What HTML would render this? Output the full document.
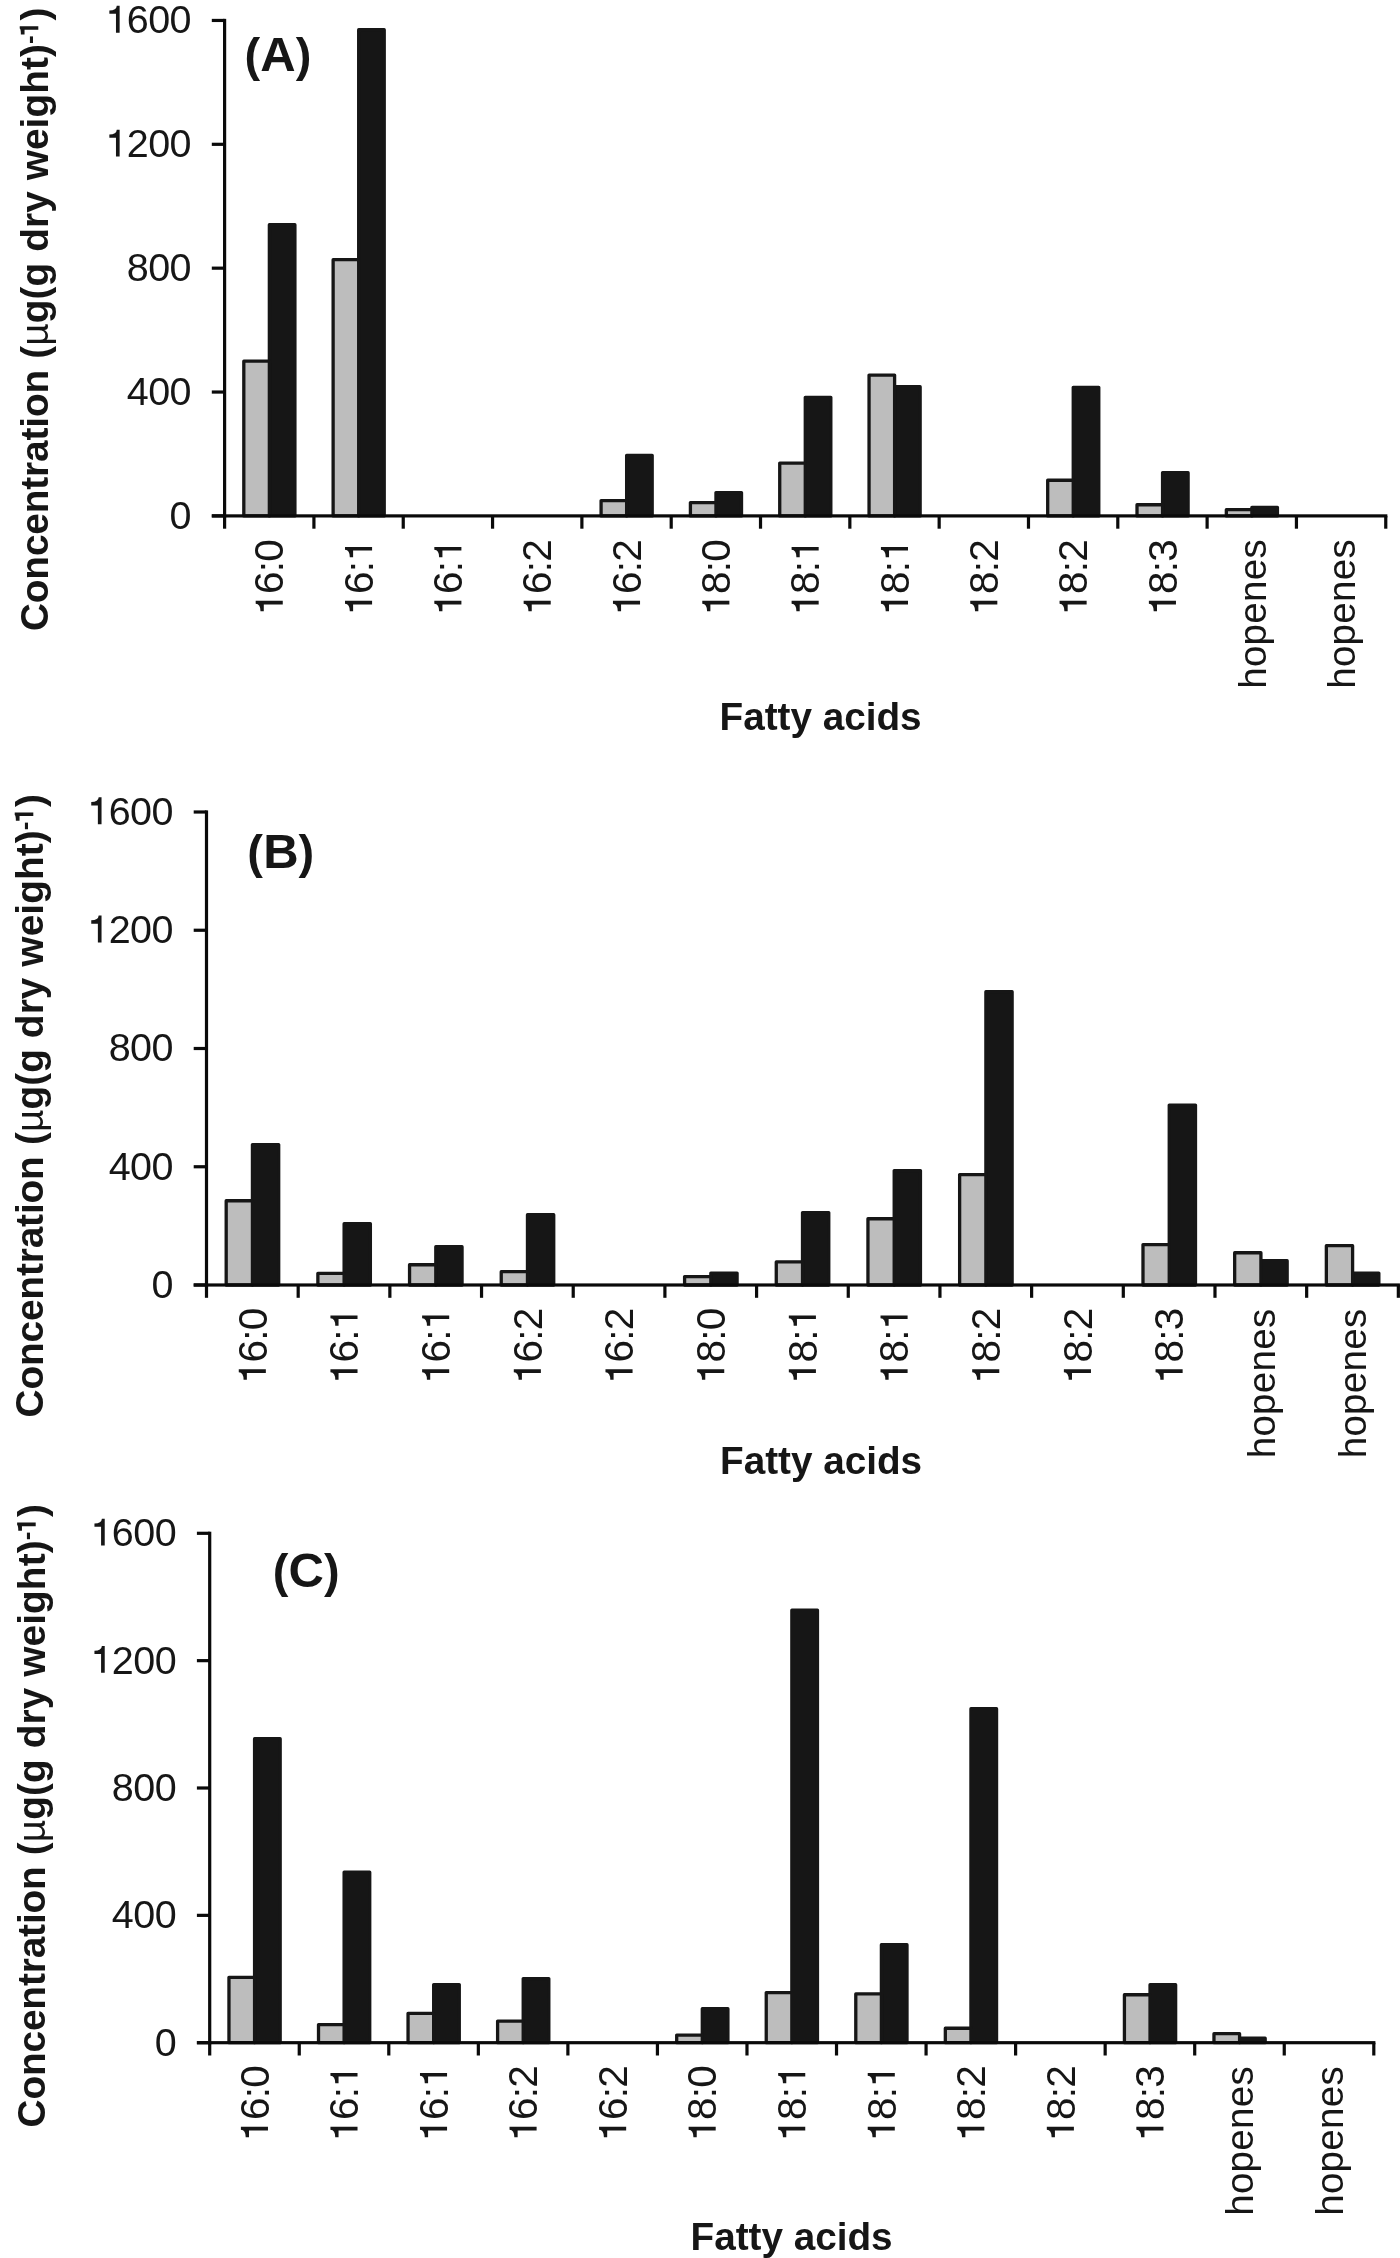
<!DOCTYPE html>
<html><head><meta charset="utf-8"><title>Fatty acids</title>
<style>
html,body{margin:0;padding:0;background:#fff;}
svg{display:block;will-change:transform;}
text{font-family:"Liberation Sans", sans-serif;fill:#161616;}
.h1{fill:none;}
</style></head>
<body>
<svg width="1400" height="2258" viewBox="0 0 1400 2258">
<rect width="1400" height="2258" fill="#ffffff"/>
<rect x="223.00" y="18.85" width="3.2" height="498.65" fill="#0a0a0a"/>
<rect x="211.80" y="18.85" width="12.8" height="3.2" fill="#0a0a0a"/>
<text x="191.00" y="33.35" font-size="39.5" letter-spacing="-0.55" text-anchor="end" class="yl"><tspan class="h1">1</tspan>600</text>
<rect x="211.80" y="142.71" width="12.8" height="3.2" fill="#0a0a0a"/>
<text x="191.00" y="157.21" font-size="39.5" letter-spacing="-0.55" text-anchor="end" class="yl"><tspan class="h1">1</tspan>200</text>
<rect x="211.80" y="266.57" width="12.8" height="3.2" fill="#0a0a0a"/>
<text x="191.00" y="281.07" font-size="39.5" letter-spacing="-0.55" text-anchor="end" class="yl">800</text>
<rect x="211.80" y="390.44" width="12.8" height="3.2" fill="#0a0a0a"/>
<text x="191.00" y="404.94" font-size="39.5" letter-spacing="-0.55" text-anchor="end" class="yl">400</text>
<rect x="211.80" y="514.30" width="12.8" height="3.2" fill="#0a0a0a"/>
<text x="191.00" y="528.80" font-size="39.5" letter-spacing="-0.55" text-anchor="end" class="yl">0</text>
<rect x="269.36" y="224.65" width="25.55" height="291.25" fill="#161616" stroke="#161616" stroke-width="3.3" stroke-linejoin="round"/>
<rect x="243.81" y="361.15" width="25.55" height="154.75" fill="#bdbdbd" stroke="#161616" stroke-width="3.3" stroke-linejoin="round"/>
<rect x="358.68" y="29.65" width="25.55" height="486.25" fill="#161616" stroke="#161616" stroke-width="3.3" stroke-linejoin="round"/>
<rect x="333.13" y="259.65" width="25.55" height="256.25" fill="#bdbdbd" stroke="#161616" stroke-width="3.3" stroke-linejoin="round"/>
<rect x="626.64" y="455.35" width="25.55" height="60.55" fill="#161616" stroke="#161616" stroke-width="3.3" stroke-linejoin="round"/>
<rect x="601.09" y="500.55" width="25.55" height="15.35" fill="#bdbdbd" stroke="#161616" stroke-width="3.3" stroke-linejoin="round"/>
<rect x="715.96" y="492.55" width="25.55" height="23.35" fill="#161616" stroke="#161616" stroke-width="3.3" stroke-linejoin="round"/>
<rect x="690.41" y="502.55" width="25.55" height="13.35" fill="#bdbdbd" stroke="#161616" stroke-width="3.3" stroke-linejoin="round"/>
<rect x="805.28" y="397.35" width="25.55" height="118.55" fill="#161616" stroke="#161616" stroke-width="3.3" stroke-linejoin="round"/>
<rect x="779.73" y="463.05" width="25.55" height="52.85" fill="#bdbdbd" stroke="#161616" stroke-width="3.3" stroke-linejoin="round"/>
<rect x="894.60" y="386.75" width="25.55" height="129.15" fill="#161616" stroke="#161616" stroke-width="3.3" stroke-linejoin="round"/>
<rect x="869.05" y="375.05" width="25.55" height="140.85" fill="#bdbdbd" stroke="#161616" stroke-width="3.3" stroke-linejoin="round"/>
<rect x="1073.24" y="387.35" width="25.55" height="128.55" fill="#161616" stroke="#161616" stroke-width="3.3" stroke-linejoin="round"/>
<rect x="1047.69" y="480.25" width="25.55" height="35.65" fill="#bdbdbd" stroke="#161616" stroke-width="3.3" stroke-linejoin="round"/>
<rect x="1162.56" y="472.75" width="25.55" height="43.15" fill="#161616" stroke="#161616" stroke-width="3.3" stroke-linejoin="round"/>
<rect x="1137.01" y="504.75" width="25.55" height="11.15" fill="#bdbdbd" stroke="#161616" stroke-width="3.3" stroke-linejoin="round"/>
<rect x="1251.88" y="507.35" width="25.55" height="8.55" fill="#161616" stroke="#161616" stroke-width="3.3" stroke-linejoin="round"/>
<rect x="1226.33" y="509.65" width="25.55" height="6.25" fill="#bdbdbd" stroke="#161616" stroke-width="3.3" stroke-linejoin="round"/>
<rect x="211.80" y="514.30" width="1175.56" height="3.2" fill="#0a0a0a"/>
<rect x="223.00" y="515.90" width="3.2" height="12.8" fill="#0a0a0a"/>
<rect x="312.32" y="515.90" width="3.2" height="12.8" fill="#0a0a0a"/>
<rect x="401.64" y="515.90" width="3.2" height="12.8" fill="#0a0a0a"/>
<rect x="490.96" y="515.90" width="3.2" height="12.8" fill="#0a0a0a"/>
<rect x="580.28" y="515.90" width="3.2" height="12.8" fill="#0a0a0a"/>
<rect x="669.60" y="515.90" width="3.2" height="12.8" fill="#0a0a0a"/>
<rect x="758.92" y="515.90" width="3.2" height="12.8" fill="#0a0a0a"/>
<rect x="848.24" y="515.90" width="3.2" height="12.8" fill="#0a0a0a"/>
<rect x="937.56" y="515.90" width="3.2" height="12.8" fill="#0a0a0a"/>
<rect x="1026.88" y="515.90" width="3.2" height="12.8" fill="#0a0a0a"/>
<rect x="1116.20" y="515.90" width="3.2" height="12.8" fill="#0a0a0a"/>
<rect x="1205.52" y="515.90" width="3.2" height="12.8" fill="#0a0a0a"/>
<rect x="1294.84" y="515.90" width="3.2" height="12.8" fill="#0a0a0a"/>
<rect x="1384.16" y="515.90" width="3.2" height="12.8" fill="#0a0a0a"/>
<text transform="translate(283.46,540.00) rotate(-90)" font-size="40.5" letter-spacing="-0.8" text-anchor="end" class="xl"><tspan class="h1">1</tspan>6:0</text>
<text transform="translate(372.78,540.00) rotate(-90)" font-size="40.5" letter-spacing="-0.8" text-anchor="end" class="xl"><tspan class="h1">1</tspan>6:<tspan class="h1">1</tspan></text>
<text transform="translate(462.10,540.00) rotate(-90)" font-size="40.5" letter-spacing="-0.8" text-anchor="end" class="xl"><tspan class="h1">1</tspan>6:<tspan class="h1">1</tspan></text>
<text transform="translate(551.42,540.00) rotate(-90)" font-size="40.5" letter-spacing="-0.8" text-anchor="end" class="xl"><tspan class="h1">1</tspan>6:2</text>
<text transform="translate(640.74,540.00) rotate(-90)" font-size="40.5" letter-spacing="-0.8" text-anchor="end" class="xl"><tspan class="h1">1</tspan>6:2</text>
<text transform="translate(730.06,540.00) rotate(-90)" font-size="40.5" letter-spacing="-0.8" text-anchor="end" class="xl"><tspan class="h1">1</tspan>8:0</text>
<text transform="translate(819.38,540.00) rotate(-90)" font-size="40.5" letter-spacing="-0.8" text-anchor="end" class="xl"><tspan class="h1">1</tspan>8:<tspan class="h1">1</tspan></text>
<text transform="translate(908.70,540.00) rotate(-90)" font-size="40.5" letter-spacing="-0.8" text-anchor="end" class="xl"><tspan class="h1">1</tspan>8:<tspan class="h1">1</tspan></text>
<text transform="translate(998.02,540.00) rotate(-90)" font-size="40.5" letter-spacing="-0.8" text-anchor="end" class="xl"><tspan class="h1">1</tspan>8:2</text>
<text transform="translate(1087.34,540.00) rotate(-90)" font-size="40.5" letter-spacing="-0.8" text-anchor="end" class="xl"><tspan class="h1">1</tspan>8:2</text>
<text transform="translate(1176.66,540.00) rotate(-90)" font-size="40.5" letter-spacing="-0.8" text-anchor="end" class="xl"><tspan class="h1">1</tspan>8:3</text>
<text transform="translate(1265.58,539.00) rotate(-90)" font-size="38.5" letter-spacing="0.3" text-anchor="end" class="xl">hopenes</text>
<text transform="translate(1354.90,539.00) rotate(-90)" font-size="38.5" letter-spacing="0.3" text-anchor="end" class="xl">hopenes</text>
<text x="244.5" y="70.8" font-size="47" font-weight="bold" letter-spacing="0.7">(<tspan font-size="49" dx="-0.5">A</tspan><tspan dx="-0.7">)</tspan></text>
<text x="820.6" y="730.3" font-size="38.7" font-weight="bold" text-anchor="middle">Fatty acids</text>
<text transform="translate(48,631.0999999999999) rotate(-90)" font-size="38.8" font-weight="bold" letter-spacing="-0.14" text-anchor="start">Concentration</text>
<text transform="translate(48,7.6) rotate(-90)" font-size="38.8" font-weight="bold" letter-spacing="0.09" text-anchor="end">(<tspan font-weight="normal">µ</tspan>g(g dry weight)<tspan font-size="26" dy="-10.2">-<tspan class="h1 b1">1</tspan></tspan><tspan dy="10.2">)</tspan></text>
<rect x="204.90" y="810.40" width="3.2" height="476.20" fill="#0a0a0a"/>
<rect x="193.70" y="810.40" width="12.8" height="3.2" fill="#0a0a0a"/>
<text x="172.90" y="824.90" font-size="39.5" letter-spacing="-0.55" text-anchor="end" class="yl"><tspan class="h1">1</tspan>600</text>
<rect x="193.70" y="928.65" width="12.8" height="3.2" fill="#0a0a0a"/>
<text x="172.90" y="943.15" font-size="39.5" letter-spacing="-0.55" text-anchor="end" class="yl"><tspan class="h1">1</tspan>200</text>
<rect x="193.70" y="1046.90" width="12.8" height="3.2" fill="#0a0a0a"/>
<text x="172.90" y="1061.40" font-size="39.5" letter-spacing="-0.55" text-anchor="end" class="yl">800</text>
<rect x="193.70" y="1165.15" width="12.8" height="3.2" fill="#0a0a0a"/>
<text x="172.90" y="1179.65" font-size="39.5" letter-spacing="-0.55" text-anchor="end" class="yl">400</text>
<rect x="193.70" y="1283.40" width="12.8" height="3.2" fill="#0a0a0a"/>
<text x="172.90" y="1297.90" font-size="39.5" letter-spacing="-0.55" text-anchor="end" class="yl">0</text>
<rect x="252.44" y="1144.55" width="26.25" height="140.45" fill="#161616" stroke="#161616" stroke-width="3.3" stroke-linejoin="round"/>
<rect x="226.19" y="1200.75" width="26.25" height="84.25" fill="#bdbdbd" stroke="#161616" stroke-width="3.3" stroke-linejoin="round"/>
<rect x="344.12" y="1223.65" width="26.25" height="61.35" fill="#161616" stroke="#161616" stroke-width="3.3" stroke-linejoin="round"/>
<rect x="317.87" y="1273.35" width="26.25" height="11.65" fill="#bdbdbd" stroke="#161616" stroke-width="3.3" stroke-linejoin="round"/>
<rect x="435.80" y="1246.75" width="26.25" height="38.25" fill="#161616" stroke="#161616" stroke-width="3.3" stroke-linejoin="round"/>
<rect x="409.55" y="1264.75" width="26.25" height="20.25" fill="#bdbdbd" stroke="#161616" stroke-width="3.3" stroke-linejoin="round"/>
<rect x="527.48" y="1214.75" width="26.25" height="70.25" fill="#161616" stroke="#161616" stroke-width="3.3" stroke-linejoin="round"/>
<rect x="501.23" y="1271.65" width="26.25" height="13.35" fill="#bdbdbd" stroke="#161616" stroke-width="3.3" stroke-linejoin="round"/>
<rect x="710.84" y="1273.05" width="26.25" height="11.95" fill="#161616" stroke="#161616" stroke-width="3.3" stroke-linejoin="round"/>
<rect x="684.59" y="1276.55" width="26.25" height="8.45" fill="#bdbdbd" stroke="#161616" stroke-width="3.3" stroke-linejoin="round"/>
<rect x="802.52" y="1212.55" width="26.25" height="72.45" fill="#161616" stroke="#161616" stroke-width="3.3" stroke-linejoin="round"/>
<rect x="776.27" y="1261.95" width="26.25" height="23.05" fill="#bdbdbd" stroke="#161616" stroke-width="3.3" stroke-linejoin="round"/>
<rect x="894.20" y="1170.55" width="26.25" height="114.45" fill="#161616" stroke="#161616" stroke-width="3.3" stroke-linejoin="round"/>
<rect x="867.95" y="1218.75" width="26.25" height="66.25" fill="#bdbdbd" stroke="#161616" stroke-width="3.3" stroke-linejoin="round"/>
<rect x="985.88" y="991.65" width="26.25" height="293.35" fill="#161616" stroke="#161616" stroke-width="3.3" stroke-linejoin="round"/>
<rect x="959.63" y="1174.55" width="26.25" height="110.45" fill="#bdbdbd" stroke="#161616" stroke-width="3.3" stroke-linejoin="round"/>
<rect x="1169.24" y="1105.05" width="26.25" height="179.95" fill="#161616" stroke="#161616" stroke-width="3.3" stroke-linejoin="round"/>
<rect x="1142.99" y="1244.55" width="26.25" height="40.45" fill="#bdbdbd" stroke="#161616" stroke-width="3.3" stroke-linejoin="round"/>
<rect x="1260.92" y="1260.75" width="26.25" height="24.25" fill="#161616" stroke="#161616" stroke-width="3.3" stroke-linejoin="round"/>
<rect x="1234.67" y="1252.75" width="26.25" height="32.25" fill="#bdbdbd" stroke="#161616" stroke-width="3.3" stroke-linejoin="round"/>
<rect x="1352.60" y="1273.05" width="26.25" height="11.95" fill="#161616" stroke="#161616" stroke-width="3.3" stroke-linejoin="round"/>
<rect x="1326.35" y="1245.65" width="26.25" height="39.35" fill="#bdbdbd" stroke="#161616" stroke-width="3.3" stroke-linejoin="round"/>
<rect x="193.70" y="1283.40" width="1206.24" height="3.2" fill="#0a0a0a"/>
<rect x="204.90" y="1285.00" width="3.2" height="12.8" fill="#0a0a0a"/>
<rect x="296.58" y="1285.00" width="3.2" height="12.8" fill="#0a0a0a"/>
<rect x="388.26" y="1285.00" width="3.2" height="12.8" fill="#0a0a0a"/>
<rect x="479.94" y="1285.00" width="3.2" height="12.8" fill="#0a0a0a"/>
<rect x="571.62" y="1285.00" width="3.2" height="12.8" fill="#0a0a0a"/>
<rect x="663.30" y="1285.00" width="3.2" height="12.8" fill="#0a0a0a"/>
<rect x="754.98" y="1285.00" width="3.2" height="12.8" fill="#0a0a0a"/>
<rect x="846.66" y="1285.00" width="3.2" height="12.8" fill="#0a0a0a"/>
<rect x="938.34" y="1285.00" width="3.2" height="12.8" fill="#0a0a0a"/>
<rect x="1030.02" y="1285.00" width="3.2" height="12.8" fill="#0a0a0a"/>
<rect x="1121.70" y="1285.00" width="3.2" height="12.8" fill="#0a0a0a"/>
<rect x="1213.38" y="1285.00" width="3.2" height="12.8" fill="#0a0a0a"/>
<rect x="1305.06" y="1285.00" width="3.2" height="12.8" fill="#0a0a0a"/>
<rect x="1396.74" y="1285.00" width="3.2" height="12.8" fill="#0a0a0a"/>
<text transform="translate(266.54,1308.50) rotate(-90)" font-size="40.5" letter-spacing="-0.8" text-anchor="end" class="xl"><tspan class="h1">1</tspan>6:0</text>
<text transform="translate(358.22,1308.50) rotate(-90)" font-size="40.5" letter-spacing="-0.8" text-anchor="end" class="xl"><tspan class="h1">1</tspan>6:<tspan class="h1">1</tspan></text>
<text transform="translate(449.90,1308.50) rotate(-90)" font-size="40.5" letter-spacing="-0.8" text-anchor="end" class="xl"><tspan class="h1">1</tspan>6:<tspan class="h1">1</tspan></text>
<text transform="translate(541.58,1308.50) rotate(-90)" font-size="40.5" letter-spacing="-0.8" text-anchor="end" class="xl"><tspan class="h1">1</tspan>6:2</text>
<text transform="translate(633.26,1308.50) rotate(-90)" font-size="40.5" letter-spacing="-0.8" text-anchor="end" class="xl"><tspan class="h1">1</tspan>6:2</text>
<text transform="translate(724.94,1308.50) rotate(-90)" font-size="40.5" letter-spacing="-0.8" text-anchor="end" class="xl"><tspan class="h1">1</tspan>8:0</text>
<text transform="translate(816.62,1308.50) rotate(-90)" font-size="40.5" letter-spacing="-0.8" text-anchor="end" class="xl"><tspan class="h1">1</tspan>8:<tspan class="h1">1</tspan></text>
<text transform="translate(908.30,1308.50) rotate(-90)" font-size="40.5" letter-spacing="-0.8" text-anchor="end" class="xl"><tspan class="h1">1</tspan>8:<tspan class="h1">1</tspan></text>
<text transform="translate(999.98,1308.50) rotate(-90)" font-size="40.5" letter-spacing="-0.8" text-anchor="end" class="xl"><tspan class="h1">1</tspan>8:2</text>
<text transform="translate(1091.66,1308.50) rotate(-90)" font-size="40.5" letter-spacing="-0.8" text-anchor="end" class="xl"><tspan class="h1">1</tspan>8:2</text>
<text transform="translate(1183.34,1308.50) rotate(-90)" font-size="40.5" letter-spacing="-0.8" text-anchor="end" class="xl"><tspan class="h1">1</tspan>8:3</text>
<text transform="translate(1274.62,1308.50) rotate(-90)" font-size="38.5" letter-spacing="0.3" text-anchor="end" class="xl">hopenes</text>
<text transform="translate(1366.30,1308.50) rotate(-90)" font-size="38.5" letter-spacing="0.3" text-anchor="end" class="xl">hopenes</text>
<text x="247.3" y="867.6" font-size="47" font-weight="bold" letter-spacing="0.7">(<tspan font-size="49" dx="-0.5">B</tspan><tspan dx="-0.7">)</tspan></text>
<text x="821.1" y="1473.9" font-size="38.7" font-weight="bold" text-anchor="middle">Fatty acids</text>
<text transform="translate(43,1417.5) rotate(-90)" font-size="38.8" font-weight="bold" letter-spacing="-0.14" text-anchor="start">Concentration</text>
<text transform="translate(43,793.9) rotate(-90)" font-size="38.8" font-weight="bold" letter-spacing="0.09" text-anchor="end">(<tspan font-weight="normal">µ</tspan>g(g dry weight)<tspan font-size="26" dy="-10.2">-<tspan class="h1 b1">1</tspan></tspan><tspan dy="10.2">)</tspan></text>
<rect x="208.10" y="1531.70" width="3.2" height="512.60" fill="#0a0a0a"/>
<rect x="196.90" y="1531.70" width="12.8" height="3.2" fill="#0a0a0a"/>
<text x="176.10" y="1546.20" font-size="39.5" letter-spacing="-0.55" text-anchor="end" class="yl"><tspan class="h1">1</tspan>600</text>
<rect x="196.90" y="1659.05" width="12.8" height="3.2" fill="#0a0a0a"/>
<text x="176.10" y="1673.55" font-size="39.5" letter-spacing="-0.55" text-anchor="end" class="yl"><tspan class="h1">1</tspan>200</text>
<rect x="196.90" y="1786.40" width="12.8" height="3.2" fill="#0a0a0a"/>
<text x="176.10" y="1800.90" font-size="39.5" letter-spacing="-0.55" text-anchor="end" class="yl">800</text>
<rect x="196.90" y="1913.75" width="12.8" height="3.2" fill="#0a0a0a"/>
<text x="176.10" y="1928.25" font-size="39.5" letter-spacing="-0.55" text-anchor="end" class="yl">400</text>
<rect x="196.90" y="2041.10" width="12.8" height="3.2" fill="#0a0a0a"/>
<text x="176.10" y="2055.60" font-size="39.5" letter-spacing="-0.55" text-anchor="end" class="yl">0</text>
<rect x="254.57" y="1738.75" width="25.61" height="303.95" fill="#161616" stroke="#161616" stroke-width="3.3" stroke-linejoin="round"/>
<rect x="228.96" y="1977.35" width="25.61" height="65.35" fill="#bdbdbd" stroke="#161616" stroke-width="3.3" stroke-linejoin="round"/>
<rect x="344.12" y="1872.25" width="25.61" height="170.45" fill="#161616" stroke="#161616" stroke-width="3.3" stroke-linejoin="round"/>
<rect x="318.51" y="2024.55" width="25.61" height="18.15" fill="#bdbdbd" stroke="#161616" stroke-width="3.3" stroke-linejoin="round"/>
<rect x="433.67" y="1984.55" width="25.61" height="58.15" fill="#161616" stroke="#161616" stroke-width="3.3" stroke-linejoin="round"/>
<rect x="408.05" y="2013.35" width="25.61" height="29.35" fill="#bdbdbd" stroke="#161616" stroke-width="3.3" stroke-linejoin="round"/>
<rect x="523.21" y="1978.55" width="25.61" height="64.15" fill="#161616" stroke="#161616" stroke-width="3.3" stroke-linejoin="round"/>
<rect x="497.60" y="2021.05" width="25.61" height="21.65" fill="#bdbdbd" stroke="#161616" stroke-width="3.3" stroke-linejoin="round"/>
<rect x="702.30" y="2008.75" width="25.61" height="33.95" fill="#161616" stroke="#161616" stroke-width="3.3" stroke-linejoin="round"/>
<rect x="676.69" y="2035.05" width="25.61" height="7.65" fill="#bdbdbd" stroke="#161616" stroke-width="3.3" stroke-linejoin="round"/>
<rect x="791.85" y="1610.25" width="25.61" height="432.45" fill="#161616" stroke="#161616" stroke-width="3.3" stroke-linejoin="round"/>
<rect x="766.24" y="1992.55" width="25.61" height="50.15" fill="#bdbdbd" stroke="#161616" stroke-width="3.3" stroke-linejoin="round"/>
<rect x="881.39" y="1944.75" width="25.61" height="97.95" fill="#161616" stroke="#161616" stroke-width="3.3" stroke-linejoin="round"/>
<rect x="855.78" y="1993.95" width="25.61" height="48.75" fill="#bdbdbd" stroke="#161616" stroke-width="3.3" stroke-linejoin="round"/>
<rect x="970.94" y="1708.75" width="25.61" height="333.95" fill="#161616" stroke="#161616" stroke-width="3.3" stroke-linejoin="round"/>
<rect x="945.33" y="2028.25" width="25.61" height="14.45" fill="#bdbdbd" stroke="#161616" stroke-width="3.3" stroke-linejoin="round"/>
<rect x="1150.03" y="1984.75" width="25.61" height="57.95" fill="#161616" stroke="#161616" stroke-width="3.3" stroke-linejoin="round"/>
<rect x="1124.42" y="1994.75" width="25.61" height="47.95" fill="#bdbdbd" stroke="#161616" stroke-width="3.3" stroke-linejoin="round"/>
<rect x="1239.58" y="2038.25" width="25.61" height="4.45" fill="#161616" stroke="#161616" stroke-width="3.3" stroke-linejoin="round"/>
<rect x="1213.97" y="2033.65" width="25.61" height="9.05" fill="#bdbdbd" stroke="#161616" stroke-width="3.3" stroke-linejoin="round"/>
<rect x="196.90" y="2041.10" width="1178.50" height="3.2" fill="#0a0a0a"/>
<rect x="208.10" y="2042.70" width="3.2" height="12.8" fill="#0a0a0a"/>
<rect x="297.65" y="2042.70" width="3.2" height="12.8" fill="#0a0a0a"/>
<rect x="387.19" y="2042.70" width="3.2" height="12.8" fill="#0a0a0a"/>
<rect x="476.74" y="2042.70" width="3.2" height="12.8" fill="#0a0a0a"/>
<rect x="566.28" y="2042.70" width="3.2" height="12.8" fill="#0a0a0a"/>
<rect x="655.83" y="2042.70" width="3.2" height="12.8" fill="#0a0a0a"/>
<rect x="745.38" y="2042.70" width="3.2" height="12.8" fill="#0a0a0a"/>
<rect x="834.92" y="2042.70" width="3.2" height="12.8" fill="#0a0a0a"/>
<rect x="924.47" y="2042.70" width="3.2" height="12.8" fill="#0a0a0a"/>
<rect x="1014.01" y="2042.70" width="3.2" height="12.8" fill="#0a0a0a"/>
<rect x="1103.56" y="2042.70" width="3.2" height="12.8" fill="#0a0a0a"/>
<rect x="1193.11" y="2042.70" width="3.2" height="12.8" fill="#0a0a0a"/>
<rect x="1282.65" y="2042.70" width="3.2" height="12.8" fill="#0a0a0a"/>
<rect x="1372.20" y="2042.70" width="3.2" height="12.8" fill="#0a0a0a"/>
<text transform="translate(268.67,2066.00) rotate(-90)" font-size="40.5" letter-spacing="-0.8" text-anchor="end" class="xl"><tspan class="h1">1</tspan>6:0</text>
<text transform="translate(358.22,2066.00) rotate(-90)" font-size="40.5" letter-spacing="-0.8" text-anchor="end" class="xl"><tspan class="h1">1</tspan>6:<tspan class="h1">1</tspan></text>
<text transform="translate(447.76,2066.00) rotate(-90)" font-size="40.5" letter-spacing="-0.8" text-anchor="end" class="xl"><tspan class="h1">1</tspan>6:<tspan class="h1">1</tspan></text>
<text transform="translate(537.31,2066.00) rotate(-90)" font-size="40.5" letter-spacing="-0.8" text-anchor="end" class="xl"><tspan class="h1">1</tspan>6:2</text>
<text transform="translate(626.86,2066.00) rotate(-90)" font-size="40.5" letter-spacing="-0.8" text-anchor="end" class="xl"><tspan class="h1">1</tspan>6:2</text>
<text transform="translate(716.40,2066.00) rotate(-90)" font-size="40.5" letter-spacing="-0.8" text-anchor="end" class="xl"><tspan class="h1">1</tspan>8:0</text>
<text transform="translate(805.95,2066.00) rotate(-90)" font-size="40.5" letter-spacing="-0.8" text-anchor="end" class="xl"><tspan class="h1">1</tspan>8:<tspan class="h1">1</tspan></text>
<text transform="translate(895.50,2066.00) rotate(-90)" font-size="40.5" letter-spacing="-0.8" text-anchor="end" class="xl"><tspan class="h1">1</tspan>8:<tspan class="h1">1</tspan></text>
<text transform="translate(985.04,2066.00) rotate(-90)" font-size="40.5" letter-spacing="-0.8" text-anchor="end" class="xl"><tspan class="h1">1</tspan>8:2</text>
<text transform="translate(1074.59,2066.00) rotate(-90)" font-size="40.5" letter-spacing="-0.8" text-anchor="end" class="xl"><tspan class="h1">1</tspan>8:2</text>
<text transform="translate(1164.13,2066.00) rotate(-90)" font-size="40.5" letter-spacing="-0.8" text-anchor="end" class="xl"><tspan class="h1">1</tspan>8:3</text>
<text transform="translate(1253.28,2066.00) rotate(-90)" font-size="38.5" letter-spacing="0.3" text-anchor="end" class="xl">hopenes</text>
<text transform="translate(1342.83,2066.00) rotate(-90)" font-size="38.5" letter-spacing="0.3" text-anchor="end" class="xl">hopenes</text>
<text x="272.7" y="1587.2" font-size="47" font-weight="bold" letter-spacing="0.7">(<tspan font-size="49" dx="-0.5">C</tspan><tspan dx="-0.7">)</tspan></text>
<text x="791.6" y="2249.8" font-size="38.7" font-weight="bold" text-anchor="middle">Fatty acids</text>
<text transform="translate(45.4,2127.5) rotate(-90)" font-size="38.8" font-weight="bold" letter-spacing="-0.14" text-anchor="start">Concentration</text>
<text transform="translate(45.4,1504.0) rotate(-90)" font-size="38.8" font-weight="bold" letter-spacing="0.09" text-anchor="end">(<tspan font-weight="normal">µ</tspan>g(g dry weight)<tspan font-size="26" dy="-10.2">-<tspan class="h1 b1">1</tspan></tspan><tspan dy="10.2">)</tspan></text>
<path transform="matrix(38.5000 0.0000 0.0000 38.5000 105.31 33.35)" d="M0.372,-0.018 V-0.716 H0.298 Q0.290,-0.592 0.105,-0.592 V-0.507 H0.277 V-0.018 Z" fill="#161616"/>
<path transform="matrix(38.5000 0.0000 0.0000 38.5000 105.31 157.21)" d="M0.372,-0.018 V-0.716 H0.298 Q0.290,-0.592 0.105,-0.592 V-0.507 H0.277 V-0.018 Z" fill="#161616"/>
<path transform="matrix(0.0000 -38.8000 38.8000 0.0000 283.46 615.24)" d="M0.372,-0.018 V-0.716 H0.298 Q0.290,-0.592 0.105,-0.592 V-0.507 H0.277 V-0.018 Z" fill="#161616"/>
<path transform="matrix(0.0000 -38.8000 38.8000 0.0000 372.78 615.26)" d="M0.372,-0.018 V-0.716 H0.298 Q0.290,-0.592 0.105,-0.592 V-0.507 H0.277 V-0.018 Z" fill="#161616"/>
<path transform="matrix(0.0000 -38.8000 38.8000 0.0000 372.78 561.33)" d="M0.372,-0.018 V-0.716 H0.298 Q0.290,-0.592 0.105,-0.592 V-0.507 H0.277 V-0.018 Z" fill="#161616"/>
<path transform="matrix(0.0000 -38.8000 38.8000 0.0000 462.10 615.26)" d="M0.372,-0.018 V-0.716 H0.298 Q0.290,-0.592 0.105,-0.592 V-0.507 H0.277 V-0.018 Z" fill="#161616"/>
<path transform="matrix(0.0000 -38.8000 38.8000 0.0000 462.10 561.33)" d="M0.372,-0.018 V-0.716 H0.298 Q0.290,-0.592 0.105,-0.592 V-0.507 H0.277 V-0.018 Z" fill="#161616"/>
<path transform="matrix(0.0000 -38.8000 38.8000 0.0000 551.42 615.24)" d="M0.372,-0.018 V-0.716 H0.298 Q0.290,-0.592 0.105,-0.592 V-0.507 H0.277 V-0.018 Z" fill="#161616"/>
<path transform="matrix(0.0000 -38.8000 38.8000 0.0000 640.74 615.24)" d="M0.372,-0.018 V-0.716 H0.298 Q0.290,-0.592 0.105,-0.592 V-0.507 H0.277 V-0.018 Z" fill="#161616"/>
<path transform="matrix(0.0000 -38.8000 38.8000 0.0000 730.06 615.24)" d="M0.372,-0.018 V-0.716 H0.298 Q0.290,-0.592 0.105,-0.592 V-0.507 H0.277 V-0.018 Z" fill="#161616"/>
<path transform="matrix(0.0000 -38.8000 38.8000 0.0000 819.38 615.26)" d="M0.372,-0.018 V-0.716 H0.298 Q0.290,-0.592 0.105,-0.592 V-0.507 H0.277 V-0.018 Z" fill="#161616"/>
<path transform="matrix(0.0000 -38.8000 38.8000 0.0000 819.38 561.33)" d="M0.372,-0.018 V-0.716 H0.298 Q0.290,-0.592 0.105,-0.592 V-0.507 H0.277 V-0.018 Z" fill="#161616"/>
<path transform="matrix(0.0000 -38.8000 38.8000 0.0000 908.70 615.26)" d="M0.372,-0.018 V-0.716 H0.298 Q0.290,-0.592 0.105,-0.592 V-0.507 H0.277 V-0.018 Z" fill="#161616"/>
<path transform="matrix(0.0000 -38.8000 38.8000 0.0000 908.70 561.33)" d="M0.372,-0.018 V-0.716 H0.298 Q0.290,-0.592 0.105,-0.592 V-0.507 H0.277 V-0.018 Z" fill="#161616"/>
<path transform="matrix(0.0000 -38.8000 38.8000 0.0000 998.02 615.24)" d="M0.372,-0.018 V-0.716 H0.298 Q0.290,-0.592 0.105,-0.592 V-0.507 H0.277 V-0.018 Z" fill="#161616"/>
<path transform="matrix(0.0000 -38.8000 38.8000 0.0000 1087.34 615.24)" d="M0.372,-0.018 V-0.716 H0.298 Q0.290,-0.592 0.105,-0.592 V-0.507 H0.277 V-0.018 Z" fill="#161616"/>
<path transform="matrix(0.0000 -38.8000 38.8000 0.0000 1176.66 615.24)" d="M0.372,-0.018 V-0.716 H0.298 Q0.290,-0.592 0.105,-0.592 V-0.507 H0.277 V-0.018 Z" fill="#161616"/>
<path transform="matrix(0.0000 -26.2000 26.2000 0.0000 38.30 36.48)" d="M0.394,0 V-0.709 H0.300 Q0.280,-0.665 0.079,-0.665 V-0.525 H0.256 V0 Z" fill="#161616"/>
<path transform="matrix(38.5000 0.0000 0.0000 38.5000 87.21 824.90)" d="M0.372,-0.018 V-0.716 H0.298 Q0.290,-0.592 0.105,-0.592 V-0.507 H0.277 V-0.018 Z" fill="#161616"/>
<path transform="matrix(38.5000 0.0000 0.0000 38.5000 87.21 943.15)" d="M0.372,-0.018 V-0.716 H0.298 Q0.290,-0.592 0.105,-0.592 V-0.507 H0.277 V-0.018 Z" fill="#161616"/>
<path transform="matrix(0.0000 -38.8000 38.8000 0.0000 266.54 1383.74)" d="M0.372,-0.018 V-0.716 H0.298 Q0.290,-0.592 0.105,-0.592 V-0.507 H0.277 V-0.018 Z" fill="#161616"/>
<path transform="matrix(0.0000 -38.8000 38.8000 0.0000 358.22 1383.76)" d="M0.372,-0.018 V-0.716 H0.298 Q0.290,-0.592 0.105,-0.592 V-0.507 H0.277 V-0.018 Z" fill="#161616"/>
<path transform="matrix(0.0000 -38.8000 38.8000 0.0000 358.22 1329.83)" d="M0.372,-0.018 V-0.716 H0.298 Q0.290,-0.592 0.105,-0.592 V-0.507 H0.277 V-0.018 Z" fill="#161616"/>
<path transform="matrix(0.0000 -38.8000 38.8000 0.0000 449.90 1383.76)" d="M0.372,-0.018 V-0.716 H0.298 Q0.290,-0.592 0.105,-0.592 V-0.507 H0.277 V-0.018 Z" fill="#161616"/>
<path transform="matrix(0.0000 -38.8000 38.8000 0.0000 449.90 1329.83)" d="M0.372,-0.018 V-0.716 H0.298 Q0.290,-0.592 0.105,-0.592 V-0.507 H0.277 V-0.018 Z" fill="#161616"/>
<path transform="matrix(0.0000 -38.8000 38.8000 0.0000 541.58 1383.74)" d="M0.372,-0.018 V-0.716 H0.298 Q0.290,-0.592 0.105,-0.592 V-0.507 H0.277 V-0.018 Z" fill="#161616"/>
<path transform="matrix(0.0000 -38.8000 38.8000 0.0000 633.26 1383.74)" d="M0.372,-0.018 V-0.716 H0.298 Q0.290,-0.592 0.105,-0.592 V-0.507 H0.277 V-0.018 Z" fill="#161616"/>
<path transform="matrix(0.0000 -38.8000 38.8000 0.0000 724.94 1383.74)" d="M0.372,-0.018 V-0.716 H0.298 Q0.290,-0.592 0.105,-0.592 V-0.507 H0.277 V-0.018 Z" fill="#161616"/>
<path transform="matrix(0.0000 -38.8000 38.8000 0.0000 816.62 1383.76)" d="M0.372,-0.018 V-0.716 H0.298 Q0.290,-0.592 0.105,-0.592 V-0.507 H0.277 V-0.018 Z" fill="#161616"/>
<path transform="matrix(0.0000 -38.8000 38.8000 0.0000 816.62 1329.83)" d="M0.372,-0.018 V-0.716 H0.298 Q0.290,-0.592 0.105,-0.592 V-0.507 H0.277 V-0.018 Z" fill="#161616"/>
<path transform="matrix(0.0000 -38.8000 38.8000 0.0000 908.30 1383.76)" d="M0.372,-0.018 V-0.716 H0.298 Q0.290,-0.592 0.105,-0.592 V-0.507 H0.277 V-0.018 Z" fill="#161616"/>
<path transform="matrix(0.0000 -38.8000 38.8000 0.0000 908.30 1329.83)" d="M0.372,-0.018 V-0.716 H0.298 Q0.290,-0.592 0.105,-0.592 V-0.507 H0.277 V-0.018 Z" fill="#161616"/>
<path transform="matrix(0.0000 -38.8000 38.8000 0.0000 999.98 1383.74)" d="M0.372,-0.018 V-0.716 H0.298 Q0.290,-0.592 0.105,-0.592 V-0.507 H0.277 V-0.018 Z" fill="#161616"/>
<path transform="matrix(0.0000 -38.8000 38.8000 0.0000 1091.66 1383.74)" d="M0.372,-0.018 V-0.716 H0.298 Q0.290,-0.592 0.105,-0.592 V-0.507 H0.277 V-0.018 Z" fill="#161616"/>
<path transform="matrix(0.0000 -38.8000 38.8000 0.0000 1183.34 1383.74)" d="M0.372,-0.018 V-0.716 H0.298 Q0.290,-0.592 0.105,-0.592 V-0.507 H0.277 V-0.018 Z" fill="#161616"/>
<path transform="matrix(0.0000 -26.2000 26.2000 0.0000 33.30 822.78)" d="M0.394,0 V-0.709 H0.300 Q0.280,-0.665 0.079,-0.665 V-0.525 H0.256 V0 Z" fill="#161616"/>
<path transform="matrix(38.5000 0.0000 0.0000 38.5000 90.41 1546.20)" d="M0.372,-0.018 V-0.716 H0.298 Q0.290,-0.592 0.105,-0.592 V-0.507 H0.277 V-0.018 Z" fill="#161616"/>
<path transform="matrix(38.5000 0.0000 0.0000 38.5000 90.41 1673.55)" d="M0.372,-0.018 V-0.716 H0.298 Q0.290,-0.592 0.105,-0.592 V-0.507 H0.277 V-0.018 Z" fill="#161616"/>
<path transform="matrix(0.0000 -38.8000 38.8000 0.0000 268.67 2141.24)" d="M0.372,-0.018 V-0.716 H0.298 Q0.290,-0.592 0.105,-0.592 V-0.507 H0.277 V-0.018 Z" fill="#161616"/>
<path transform="matrix(0.0000 -38.8000 38.8000 0.0000 358.22 2141.26)" d="M0.372,-0.018 V-0.716 H0.298 Q0.290,-0.592 0.105,-0.592 V-0.507 H0.277 V-0.018 Z" fill="#161616"/>
<path transform="matrix(0.0000 -38.8000 38.8000 0.0000 358.22 2087.33)" d="M0.372,-0.018 V-0.716 H0.298 Q0.290,-0.592 0.105,-0.592 V-0.507 H0.277 V-0.018 Z" fill="#161616"/>
<path transform="matrix(0.0000 -38.8000 38.8000 0.0000 447.76 2141.26)" d="M0.372,-0.018 V-0.716 H0.298 Q0.290,-0.592 0.105,-0.592 V-0.507 H0.277 V-0.018 Z" fill="#161616"/>
<path transform="matrix(0.0000 -38.8000 38.8000 0.0000 447.76 2087.33)" d="M0.372,-0.018 V-0.716 H0.298 Q0.290,-0.592 0.105,-0.592 V-0.507 H0.277 V-0.018 Z" fill="#161616"/>
<path transform="matrix(0.0000 -38.8000 38.8000 0.0000 537.31 2141.24)" d="M0.372,-0.018 V-0.716 H0.298 Q0.290,-0.592 0.105,-0.592 V-0.507 H0.277 V-0.018 Z" fill="#161616"/>
<path transform="matrix(0.0000 -38.8000 38.8000 0.0000 626.86 2141.24)" d="M0.372,-0.018 V-0.716 H0.298 Q0.290,-0.592 0.105,-0.592 V-0.507 H0.277 V-0.018 Z" fill="#161616"/>
<path transform="matrix(0.0000 -38.8000 38.8000 0.0000 716.40 2141.24)" d="M0.372,-0.018 V-0.716 H0.298 Q0.290,-0.592 0.105,-0.592 V-0.507 H0.277 V-0.018 Z" fill="#161616"/>
<path transform="matrix(0.0000 -38.8000 38.8000 0.0000 805.95 2141.26)" d="M0.372,-0.018 V-0.716 H0.298 Q0.290,-0.592 0.105,-0.592 V-0.507 H0.277 V-0.018 Z" fill="#161616"/>
<path transform="matrix(0.0000 -38.8000 38.8000 0.0000 805.95 2087.33)" d="M0.372,-0.018 V-0.716 H0.298 Q0.290,-0.592 0.105,-0.592 V-0.507 H0.277 V-0.018 Z" fill="#161616"/>
<path transform="matrix(0.0000 -38.8000 38.8000 0.0000 895.50 2141.26)" d="M0.372,-0.018 V-0.716 H0.298 Q0.290,-0.592 0.105,-0.592 V-0.507 H0.277 V-0.018 Z" fill="#161616"/>
<path transform="matrix(0.0000 -38.8000 38.8000 0.0000 895.50 2087.33)" d="M0.372,-0.018 V-0.716 H0.298 Q0.290,-0.592 0.105,-0.592 V-0.507 H0.277 V-0.018 Z" fill="#161616"/>
<path transform="matrix(0.0000 -38.8000 38.8000 0.0000 985.04 2141.24)" d="M0.372,-0.018 V-0.716 H0.298 Q0.290,-0.592 0.105,-0.592 V-0.507 H0.277 V-0.018 Z" fill="#161616"/>
<path transform="matrix(0.0000 -38.8000 38.8000 0.0000 1074.59 2141.24)" d="M0.372,-0.018 V-0.716 H0.298 Q0.290,-0.592 0.105,-0.592 V-0.507 H0.277 V-0.018 Z" fill="#161616"/>
<path transform="matrix(0.0000 -38.8000 38.8000 0.0000 1164.13 2141.24)" d="M0.372,-0.018 V-0.716 H0.298 Q0.290,-0.592 0.105,-0.592 V-0.507 H0.277 V-0.018 Z" fill="#161616"/>
<path transform="matrix(0.0000 -26.2000 26.2000 0.0000 35.70 1532.88)" d="M0.394,0 V-0.709 H0.300 Q0.280,-0.665 0.079,-0.665 V-0.525 H0.256 V0 Z" fill="#161616"/>
</svg>
</body></html>
